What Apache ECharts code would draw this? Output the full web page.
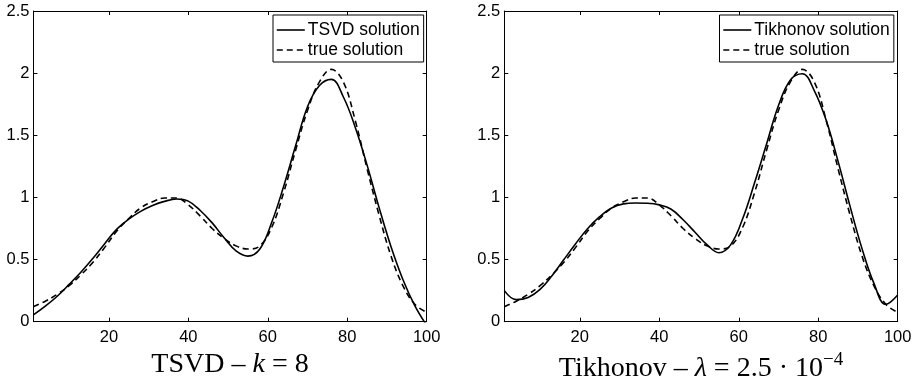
<!DOCTYPE html>
<html><head><meta charset="utf-8">
<script src="https://cdn.jsdelivr.net/npm/echarts@6/dist/echarts.min.js"></script>
<style>html,body{margin:0;padding:0;background:#fff}#c{width:915px;height:379px}</style>
</head><body><div id="c"></div>
<script>
// sample positions (index 1..100)
const xs = [1,4,7,10,13,16,19,22,25,28,31,34,37,40,43,46,49,52,55,58,61,64,67,70,73,76,79,82,85,88,91,94,97,100];
// true solution (dashed, same in both panels)
const trueSol = [0.12,0.165,0.22,0.29,0.378,0.478,0.60,0.73,0.83,0.915,0.965,0.995,0.995,0.94,0.85,0.75,0.67,0.61,0.585,0.61,0.76,1.04,1.38,1.70,1.93,2.03,1.93,1.62,1.23,0.86,0.53,0.29,0.14,0.075];
// TSVD solution, k = 8
const tsvdSol = [0.055,0.125,0.205,0.30,0.40,0.51,0.63,0.745,0.825,0.888,0.935,0.968,0.987,0.97,0.895,0.795,0.675,0.57,0.528,0.585,0.80,1.09,1.415,1.73,1.90,1.95,1.81,1.565,1.26,0.92,0.605,0.34,0.13,-0.03];
// Tikhonov solution, lambda = 2.5e-4
const tikhSol = [0.25,0.178,0.195,0.26,0.37,0.50,0.63,0.75,0.845,0.915,0.948,0.955,0.953,0.94,0.905,0.82,0.72,0.62,0.555,0.62,0.83,1.12,1.43,1.74,1.945,1.995,1.86,1.62,1.29,0.93,0.59,0.31,0.14,0.215];
const xTicks = [20,40,60,80,100];
const yMin = 0, yMax = 2.5, yStep = 0.5;
const names = { tsvd: 'TSVD solution', tikh: 'Tikhonov solution', truth: 'true solution' };

function pairs(ys){ return xs.map((x,i)=>[x, ys[i]]); }

const chart = echarts.init(document.getElementById('c'), null, {renderer:'canvas'});
const black = '#000';
const lab = {color: black, fontFamily: 'Liberation Sans, Arial, sans-serif', fontSize: 16.5};

function xAx(grid, pos, labels){
  return {type:'value', gridIndex:grid, position:pos, min:1, max:100,
    axisLine:{show:true, onZero:false, lineStyle:{color:black, width:1}},
    axisTick:{show:true, inside:true, length:4, customValues:xTicks, lineStyle:{color:black}},
    axisLabel:{show:labels, customValues:xTicks, margin:7, ...lab},
    splitLine:{show:false}};
}
function yAx(grid, pos, labels){
  return {type:'value', gridIndex:grid, position:pos, min:yMin, max:yMax, interval:yStep,
    axisLine:{show:true, onZero:false, lineStyle:{color:black, width:1}},
    axisTick:{show:true, inside:true, length:4, lineStyle:{color:black}},
    axisLabel:{show:labels, margin:4, ...lab},
    splitLine:{show:false}};
}
function line(name, data, xi, yi, dashed){
  return {type:'line', name, data:pairs(data), xAxisIndex:xi, yAxisIndex:yi,
    symbol:'none', showSymbol:false, smooth:0.4, clip:true,
    lineStyle:{color:black, width:1.6, type: dashed ? [6,4] : 'solid'},
    itemStyle:{color:black}, emphasis:{disabled:true}};
}
const legBase = {orient:'vertical', itemWidth:28, itemHeight:14, itemGap:2,
  backgroundColor:'#fff', borderColor:black, borderWidth:1, borderRadius:0,
  padding:[6,4,3,3], selectedMode:false,
  itemStyle:{color:'rgba(0,0,0,0)', borderWidth:0, borderColor:'rgba(0,0,0,0)'},
  lineStyle:{width:1.6},
  textStyle:{color:black, fontFamily:'Liberation Sans, Arial, sans-serif', fontSize:17.5, padding:[0,0,0,-2]}};

const serif = 'Liberation Serif, Times New Roman, serif';
const titleRich = {
  r:{fontFamily:serif, fontSize:28, fontWeight:'normal', color:black},
  i:{fontFamily:serif, fontSize:28, fontWeight:'normal', fontStyle:'italic', color:black},
  s:{fontFamily:serif, fontSize:19, fontWeight:'normal', color:black, padding:[0,0,16,0]}
};

chart.setOption({
  animation:false,
  backgroundColor:'#fff',
  grid:[
    {left:33.4, top:11, width:393.3, height:310.7, outerBoundsMode:'none', show:false},
    {left:504.3, top:11, width:393.4, height:310.7, outerBoundsMode:'none', show:false}
  ],
  xAxis:[xAx(0,'bottom',true), xAx(0,'top',false), xAx(1,'bottom',true), xAx(1,'top',false)],
  yAxis:[yAx(0,'left',true), yAx(0,'right',false), yAx(1,'left',true), yAx(1,'right',false)],
  legend:[
    {...legBase, left:273, top:15, data:[names.tsvd, names.truth]},
    {...legBase, left:719.5, top:15, data:[names.tikh, names.truth]}
  ],
  title:[
    {text:'{r|TSVD – }{i|k}{r| = 8}', left:225, top:346, textAlign:'center',
     textStyle:{fontWeight:'normal', rich:titleRich}},
    {text:'{r|Tikhonov – }{i|λ}{r| = 2.5 · 10}{s|−4}', left:696, top:346, textAlign:'center',
     textStyle:{fontWeight:'normal', rich:titleRich}}
  ],
  series:[
    line(names.tsvd, tsvdSol, 0, 0, false),
    line(names.truth, trueSol, 0, 0, true),
    line(names.tikh, tikhSol, 2, 2, false),
    line(names.truth, trueSol, 2, 2, true)
  ]
});
</script></body></html>
